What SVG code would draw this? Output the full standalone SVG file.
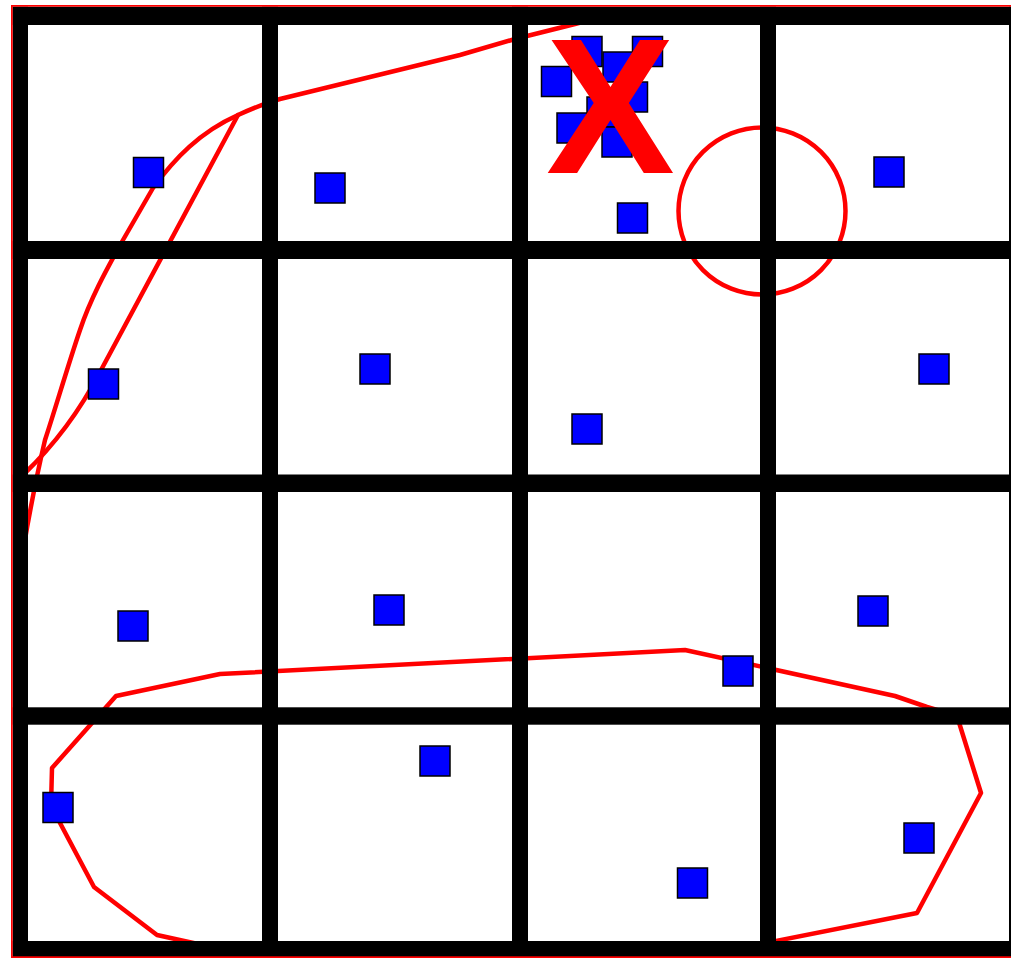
<svg xmlns="http://www.w3.org/2000/svg" width="1011" height="958" viewBox="0 0 1011 958">
<style>
.zone{fill:none;stroke:#ff0000;stroke-width:4.5;stroke-linejoin:round;stroke-linecap:round}
.grid{fill:#000}
.pt{fill:#0000ff;stroke:#000;stroke-width:1.5}
.mark{fill:#ff0000;font-family:"Liberation Sans",Arial,sans-serif;font-weight:bold;font-size:193px}
</style>
<defs>
<rect id="sq" x="-15" y="-15" width="30" height="30" class="pt"/>
</defs>
<rect x="0" y="0" width="1011" height="958" fill="#fff"/>
<g id="zones">
<path class="zone" d="M620,12 L575,24 L515,39 L460,55 L280,99 Q262,104 238,115 C200,132 175,158 153,188 L123,240 C105,272 90,300 80,330 C68,365 55,410 45,440 C38,470 30,510 24,545"/>
<path class="zone" d="M238,115 L100,372 Q70,430 24,474"/>
<circle class="zone" cx="762" cy="211" r="83.5"/>
<polygon class="zone" points="116,696 220,674 685,650 895,696 927,707 957,716 981,793 917,913 751,946 207,946 157,935 94,887 51,806 52,768"/>
</g>
<g id="grid" class="grid">
<rect x="12.7" y="6.7" width="1000" height="18.3"/>
<rect x="12.7" y="241" width="1000" height="18"/>
<rect x="12.7" y="474.5" width="1000" height="17.5"/>
<rect x="12.7" y="707.3" width="1000" height="17.4"/>
<rect x="12.7" y="941" width="1000" height="16"/>
<rect x="12.7" y="6.7" width="15.3" height="951"/>
<rect x="262" y="6.7" width="16" height="951"/>
<rect x="512" y="6.7" width="16" height="951"/>
<rect x="760" y="6.7" width="16" height="951"/>
<rect x="1009" y="6.7" width="16" height="951"/>
</g>
<g id="points">
<use href="#sq" x="148.5" y="172.5"/>
<use href="#sq" x="330" y="188"/>
<use href="#sq" x="889" y="172"/>
<use href="#sq" x="632.5" y="218"/>
<use href="#sq" x="587" y="51.5"/>
<use href="#sq" x="647.5" y="51.5"/>
<use href="#sq" x="556.5" y="81.5"/>
<use href="#sq" x="618" y="67"/>
<use href="#sq" x="632.5" y="97"/>
<use href="#sq" x="602" y="112"/>
<use href="#sq" x="572" y="128"/>
<use href="#sq" x="617" y="142"/>
<use href="#sq" x="103.5" y="384"/>
<use href="#sq" x="375" y="369"/>
<use href="#sq" x="587" y="429"/>
<use href="#sq" x="934" y="369"/>
<use href="#sq" x="133" y="626"/>
<use href="#sq" x="389" y="610"/>
<use href="#sq" x="873" y="611"/>
<use href="#sq" x="738" y="671"/>
<use href="#sq" x="58" y="807.5"/>
<use href="#sq" x="435" y="761"/>
<use href="#sq" x="692.5" y="883"/>
<use href="#sq" x="919" y="838"/>
</g>
<g id="marker-x">
<text class="mark" x="610.3" y="173.3" text-anchor="middle">X</text>
</g>
<rect id="frame" x="11.85" y="5.85" width="1100" height="951.3" fill="none" stroke="#ff0000" stroke-width="1.7"/>
</svg>
